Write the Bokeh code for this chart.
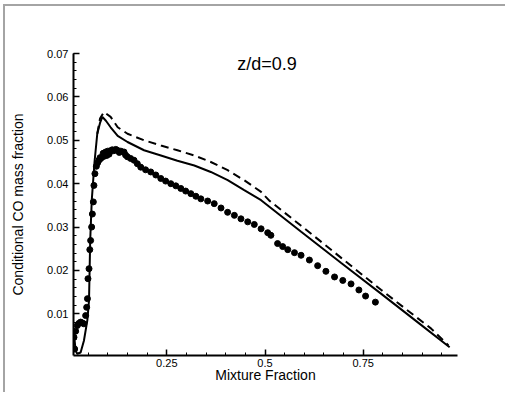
from bokeh.plotting import figure
from bokeh.models import FixedTicker, Range1d, Label, InlineStyleSheet
from bokeh.embed import file_html
from bokeh.resources import INLINE

# Model result (solid)
solid_x = [0.0137, 0.018, 0.022, 0.0306, 0.039, 0.0477, 0.052, 0.055, 0.059, 0.066, 0.073, 0.080,
           0.086, 0.095, 0.107, 0.125, 0.150, 0.192, 0.235, 0.277, 0.320, 0.362, 0.405, 0.447,
           0.490, 0.592, 0.694, 0.796, 0.898, 0.970]
solid_y = [0.0054, 0.0015, 0.0008, 0.0011, 0.0038, 0.0085, 0.0131, 0.0269, 0.0362, 0.0450, 0.0515, 0.0540,
           0.0554, 0.0545, 0.0530, 0.0510, 0.0496, 0.0477, 0.0465, 0.0453, 0.0442, 0.0427, 0.0408, 0.0385,
           0.0362, 0.0289, 0.0217, 0.0146, 0.0074, 0.0023]

# Model result (dashed)
dash_x = [0.073, 0.080, 0.090, 0.107, 0.125, 0.150, 0.192, 0.235, 0.277, 0.320, 0.362, 0.405,
          0.447, 0.490, 0.511, 0.592, 0.694, 0.796, 0.860, 0.923, 0.967]
dash_y = [0.0515, 0.0550, 0.0565, 0.0554, 0.0530, 0.0515, 0.0500, 0.0488, 0.0477, 0.0465, 0.0450, 0.0431,
          0.0408, 0.0381, 0.0361, 0.0303, 0.0229, 0.0155, 0.0110, 0.0066, 0.0027]

# Measurements (dots)
meas_x = [0.0137, 0.0155, 0.0180, 0.0222, 0.0260, 0.0306, 0.0350, 0.0390, 0.0434, 0.0460, 0.0480,
          0.0493, 0.0520, 0.0540, 0.0561, 0.0587, 0.0605, 0.0630, 0.0645, 0.0670, 0.0707, 0.0740,
          0.0773, 0.0800, 0.0820, 0.0860, 0.0880, 0.0900, 0.0944, 0.0970, 0.1000, 0.1030, 0.1071,
          0.1110, 0.1150, 0.1200, 0.1242, 0.1290, 0.1330, 0.1411, 0.1450,
          0.1497, 0.1580, 0.1666, 0.1750, 0.1837, 0.1960, 0.2092, 0.2220, 0.2347, 0.2470, 0.2602,
          0.2730, 0.2857, 0.2980, 0.3112, 0.3240, 0.3367, 0.3540, 0.3707, 0.3880, 0.4048, 0.4220,
          0.4388, 0.4560, 0.4727, 0.4900, 0.5069, 0.5150, 0.5320, 0.5450, 0.5579, 0.5750, 0.5918,
          0.6130, 0.6340, 0.6550, 0.6770, 0.6980, 0.7190, 0.7390, 0.7560, 0.7810]
meas_y = [0.0046, 0.0019, 0.0060, 0.0073, 0.0078, 0.0081, 0.0079, 0.0077, 0.0096, 0.0115, 0.0135,
          0.0181, 0.0204, 0.0248, 0.0269, 0.0300, 0.0330, 0.0358, 0.0396, 0.0423, 0.0440, 0.0448,
          0.0454, 0.0460, 0.0458, 0.0462, 0.0470, 0.0463, 0.0473, 0.0465, 0.0475, 0.0468, 0.0476,
          0.0478, 0.0476, 0.0479, 0.0477, 0.0472, 0.0475, 0.0473, 0.0466,
          0.0462, 0.0458, 0.0454, 0.0446, 0.0438, 0.0432, 0.0427, 0.0420, 0.0412, 0.0406, 0.0400,
          0.0395, 0.0389, 0.0383, 0.0377, 0.0371, 0.0365, 0.0360, 0.0354, 0.0344, 0.0334, 0.0327,
          0.0319, 0.0312, 0.0306, 0.0296, 0.0287, 0.0281, 0.0262, 0.0255, 0.0248, 0.0241, 0.0235,
          0.0224, 0.0211, 0.0198, 0.0185, 0.0177, 0.0169, 0.0155, 0.0141, 0.0127]

x_major = [0.25, 0.5, 0.75]
x_minor = [0.05, 0.1, 0.15, 0.2, 0.25, 0.3, 0.35, 0.4, 0.45, 0.5, 0.55, 0.6, 0.65, 0.7, 0.75,
           0.8, 0.85, 0.9, 0.95]
y_major = [0.01, 0.02, 0.03, 0.04, 0.05, 0.06, 0.07]
y_minor = [round(0.002 * i, 3) for i in range(1, 36)]

title_text = "z/d=0.9"
x_title = "Mixture Fraction"
y_title = "Conditional CO mass fraction"

FONT = "Liberation Sans"

# page frame (grey top and left rule), applied only to the element carrying the "refframe" class
frame_css = InlineStyleSheet(css="""
:host(.refframe) { position: relative; overflow: hidden; }
:host(.refframe)::after {
  content: ""; position: absolute; left: 3px; top: 4px; width: 700px; height: 700px;
  border-top: 2px solid #a4a4a4; border-left: 2px solid #a4a4a4;
  pointer-events: none; z-index: 10;
}
""")

p = figure(width=505, height=392, output_backend="svg", toolbar_location=None,
           x_range=Range1d(0.0125, 0.99), y_range=Range1d(0.0004, 0.07),
           min_border_left=73, min_border_right=48, min_border_top=53, min_border_bottom=37)
p.css_classes = ["refframe"]
p.stylesheets = [frame_css]
p.outline_line_color = None
p.xgrid.visible = False
p.ygrid.visible = False
p.background_fill_color = "white"
p.border_fill_color = "white"

p.line(solid_x, solid_y, line_color="black", line_width=2)
p.line(dash_x, dash_y, line_color="black", line_width=2, line_dash="8 5")
p.scatter(meas_x, meas_y, size=6, fill_color="black", line_color="black")

for ax, maj, mnr, lab in ((p.xaxis[0], x_major, x_minor, x_title), (p.yaxis[0], y_major, y_minor, y_title)):
    ax.ticker = FixedTicker(ticks=maj, minor_ticks=mnr)
    ax.axis_label = lab
    ax.axis_label_text_font = FONT
    ax.axis_label_text_font_size = "14px"
    ax.axis_label_text_font_style = "normal"
    ax.axis_label_text_color = "black"
    ax.major_label_text_font = FONT
    ax.major_label_text_font_size = "11px"
    ax.major_label_text_color = "black"
    ax.axis_line_width = 2
    ax.axis_line_color = "black"
    ax.major_tick_in = 6
    ax.major_tick_out = 0
    ax.minor_tick_in = 3
    ax.minor_tick_out = 0
    ax.major_tick_line_width = 1.5
    ax.minor_tick_line_width = 1
    ax.major_label_standoff = 3

p.xaxis[0].axis_label_standoff = -3
p.yaxis[0].major_label_standoff = 5
p.yaxis[0].axis_label_standoff = 18

p.add_layout(Label(x=0.505, y=0.0675, text=title_text, text_font=FONT, text_font_size="18px",
                   text_align="center", text_baseline="middle", text_color="black"))

open("out.html", "w").write(file_html(p, INLINE))
